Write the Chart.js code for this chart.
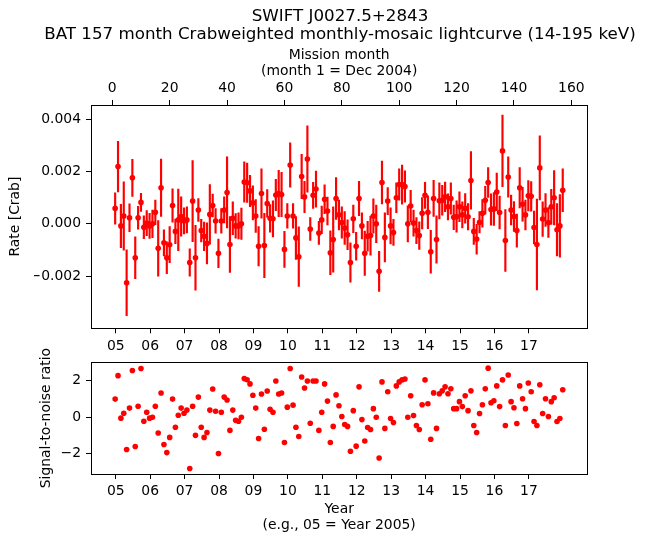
<!DOCTYPE html>
<html><head><meta charset="utf-8">
<script src="https://cdn.jsdelivr.net/npm/chart.js@4.4.0/dist/chart.umd.min.js"></script>
<style>
html,body{margin:0;padding:0;background:#fff;}
#wrap{position:relative;width:646px;height:543px;background:#fff;}
canvas{position:absolute;left:0;}
#c1{top:0;} #c2{top:330px;}
</style></head><body>
<div id="wrap"><canvas id="c1" width="646" height="360"></canvas><canvas id="c2" width="646" height="213"></canvas></div>
<script>
// Mission months (category positions, month 1 = Dec 2004)
const missionMonths = Array.from({length: 157}, (_, i) => i + 1);

// Rate in units of 0.001 Crab
const rate = [
  0.59, 2.19, -0.08, 0.30, -2.26, 0.23, 1.76, -1.30, 0.23, 0.82,
  -0.13, 0.03, -0.08, 0.00, 0.44, -0.94, 1.38, -0.73, -1.30, -0.80,
  0.70, -0.29, 0.15, 0.28, 0.11, 0.15, -1.48, 0.87, -1.30, 0.53,
  -0.26, -0.48, -0.75, 0.36, 0.70, 0.11, -1.13, 0.11, 0.53, 1.20,
  -0.79, 0.21, -0.08, -0.08, 0.00, 1.60, 1.57, 1.26, 0.80, 0.30,
  -0.86, 1.16, -0.83, 0.78, 0.21, 0.19, 1.10, 1.16, 1.12, -0.98,
  0.30, 2.25, 0.30, -0.54, -1.26, 1.81, 1.03, 2.48, -0.20, 1.09,
  1.33, -0.35, 0.15, 0.94, 0.49, -1.11,
  -0.60, 0.97, 0.34, 0.05, -0.16, -0.42, -1.48, 0.19, -0.86, 0.97,
  -0.08, -1.13, -0.48, -0.45, 0.30, 0.00, -1.82, 1.58, -0.52, 0.87,
  -0.08, -0.33, 1.00, 1.50, 1.50, 1.43, 0.00,
  0.68, 0.03, -0.26, -0.45, 0.40, 1.09, 0.44, -1.07, 0.97, -0.60,
  0.88, 0.90, 1.03, 0.65, 0.97, 0.25, 0.28, 0.65, 0.34, 0.59,
  0.27, 1.66, -0.29, -0.58, 0.06, 0.40, 0.90, 1.58, 0.55, 0.57,
  1.22, 0.43, 2.79, -0.64, 1.79, 0.53, 0.28, -0.26, 1.38, 0.75,
  0.34, 1.07, 1.05, -0.14, -0.79, 2.14, 0.18, 0.53, 0.05, 0.65,
  1.00, -0.23, -0.08, 1.28
];

// 1-sigma error in units of 0.001 Crab
const rateErr = [
  0.60, 0.97, 0.83, 1.31, 1.26, 0.53, 0.71, 0.80, 0.44, 0.35,
  0.44, 0.48, 0.48, 0.53, 0.47, 1.06, 1.10, 0.50, 0.61, 0.69,
  0.64, 0.47, 1.18, 0.75, 0.50, 0.50, 0.52, 1.55, 1.24, 0.44,
  0.43, 0.55, 0.79, 1.14, 0.44, 0.47, 0.55, 0.47, 0.50, 1.36,
  1.07, 0.63, 0.47, 0.50, 0.60, 0.77, 0.75, 0.60, 0.65, 0.63,
  0.75, 0.94, 1.23, 0.53, 0.53, 0.69, 0.60, 0.89, 0.85, 0.69,
  0.47, 0.85, 0.47, 0.82, 1.14, 0.85, 0.60, 1.27, 0.44, 0.50,
  0.69, 0.44, 0.53, 0.55, 0.53, 0.84,
  1.25, 0.80, 0.57, 0.60, 0.63, 0.57, 0.75, 0.53, 0.53, 0.66,
  0.50, 0.85, 0.57, 0.75, 0.66, 0.72, 0.77, 0.82, 0.94, 0.52,
  0.69, 0.50, 0.57, 0.60, 0.75, 0.60, 0.69,
  0.60, 0.50, 0.50, 0.53, 0.60, 0.50, 0.63, 0.82, 0.69, 0.91,
  0.69, 0.57, 0.57, 0.50, 0.60, 0.47, 0.60, 0.57, 0.50, 0.57,
  0.50, 1.10, 0.50, 0.58, 0.41, 0.53, 0.53, 0.57, 0.60, 0.63,
  0.72, 0.63, 1.37, 1.18, 0.77, 0.57, 0.57, 0.63, 0.77, 0.65,
  0.57, 0.58, 0.57, 0.63, 1.74, 1.23, 0.66, 0.63, 0.57, 0.67,
  1.04, 1.00, 1.20, 0.82
];

// Signal-to-noise ratio
const snr = [
  0.99, 2.27, -0.05, 0.22, -1.76, 0.50, 2.55, -1.60, 0.60, 2.66,
  -0.22, 0.27, -0.05, 0.00, 0.60, -0.86, 1.32, -1.49, -1.93, -1.10,
  0.99, -0.55, 0.11, 0.50, 0.22, 0.39, -2.80, 0.60, -0.99, 1.10,
  -0.55, -1.10, -0.83, 0.39, 1.54, 0.33, -1.98, 0.27, 1.10, 0.94,
  -0.72, 0.39, -0.17, -0.22, 0.00, 2.11, 2.05, 1.82, 1.20, 0.50,
  -1.16, 1.27, -0.66, 1.43, 0.44, 0.27, 1.98, 1.27, 1.32, -1.38,
  0.55, 2.66, 0.66, -0.55, -1.05, 2.20, 1.60, 1.98, -0.33, 1.98,
  1.98, -0.72, 0.27, 1.82, 0.88, -1.38,
  -0.50, 1.22, 0.63, 0.04, -0.40, -0.50, -1.86, 0.36, -1.58, 1.66,
  -0.13, -1.30, -0.56, -0.67, 0.47, 0.00, -2.23, 1.93, -0.61, 1.39,
  -0.07, -0.29, 1.71, 1.93, 2.04, 2.09, 0.00,
  1.17, 0.09, -0.45, -0.67, 0.68, 2.04, 0.74, -1.20, 1.33, -0.61,
  1.28, 1.44, 1.66, 1.28, 1.55, 0.47, 0.47, 0.85, 0.58, 1.17,
  0.36, 1.44, -0.45, -0.83, 0.20, 0.68, 1.55, 2.68, 0.79, 0.90,
  1.71, 0.58, 2.04, -0.45, 2.31, 0.85, 0.52, -0.34, 1.71, 1.01,
  0.47, 1.87, 1.39, -0.23, -0.45, 1.77, 0.20, 1.01, 0.04, 0.85,
  1.06, -0.23, -0.07, 1.50
];

// Tick labels
const yearLabels = ['05','06','07','08','09','10','11','12','13','14','15','16','17'];
const yearTickMonths = [1.2, 13.2, 25.2, 37.2, 49.2, 61.2, 73.2, 85.2, 97.2, 109.2, 121.2, 133.2, 145.2];
const monthTicks = [0, 20, 40, 60, 80, 100, 120, 140, 160];
const rateTicks = [-2, 0, 2, 4];      // in 0.001 Crab
const snrTicks = [-2, 0, 2];

const FONT = "'DejaVu Sans', 'Liberation Sans', sans-serif";
const XMIN = -7.42, XMAX = 165.56;
const minus = s => String(s).replace('-', '\u2212');

const frame = {
  id: 'frame',
  afterDraw(chart) {
    const {ctx, chartArea: a} = chart;
    ctx.save();
    ctx.strokeStyle = '#000';
    ctx.lineWidth = 1;
    ctx.strokeRect(Math.round(a.left) + 0.5, Math.round(a.top) + 0.5,
                   Math.round(a.right - a.left), Math.round(a.bottom - a.top));
    ctx.restore();
  }
};

const tickFont = {family: FONT, size: 13.9, lineHeight: 1.2};
const gridOpts = {display: true, drawOnChartArea: false, drawTicks: true, tickLength: 5, color: '#000', lineWidth: 1, offset: false};

function xYearAxis(height, title) {
  const ax = {
    type: 'linear', position: 'bottom', min: XMIN, max: XMAX, offset: false,
    grid: gridOpts, border: {display: false},
    ticks: {autoSkip: false, maxRotation: 0, minRotation: 0, padding: 4.5, color: '#000', font: tickFont,
            callback: (v, i) => yearLabels[i]},
    afterBuildTicks: s => { s.ticks = yearTickMonths.map(v => ({value: v})); },
    afterFit: s => { s.height = height; }
  };
  if (title) {
    ax.title = {display: true, text: title, color: '#000',
                font: {family: FONT, size: 13.9, lineHeight: 1.2}, padding: {top: 0, bottom: 9}};
  }
  return ax;
}

// ---------- Top panel: rate with error bars ----------
new Chart(document.getElementById('c1'), {
  type: 'bar',
  data: {
    datasets: [
      {
        type: 'bar',
        data: missionMonths.map((m, i) => ({x: m, y: [rate[i] - rateErr[i], rate[i] + rateErr[i]]})),
        backgroundColor: '#ff0000', borderWidth: 0, barThickness: 1.5, grouped: false, order: 2
      },
      {
        type: 'line',
        data: missionMonths.map((m, i) => ({x: m, y: rate[i]})),
        showLine: false, pointRadius: 2.8, pointHoverRadius: 2.8,
        pointBackgroundColor: '#ff0000', pointBorderWidth: 0, order: 1
      }
    ]
  },
  options: {
    responsive: false, animation: false, devicePixelRatio: 1,
    layout: {padding: {left: 34, right: 0, top: 0, bottom: 0}},
    plugins: {
      legend: {display: false}, tooltip: {enabled: false},
      title: {
        display: true, color: '#000',
        text: ['SWIFT J0027.5+2843', 'BAT 157 month Crabweighted monthly-mosaic lightcurve (14-195 keV)'],
        font: {family: FONT, size: 16.7, weight: 'normal', lineHeight: 1.1},
        padding: {top: 7, bottom: 0}
      }
    },
    scales: {
      x: xYearAxis(31.7, null),
      x2: {
        type: 'linear', position: 'top', min: XMIN, max: XMAX, offset: false,
        grid: gridOpts, border: {display: false},
        ticks: {autoSkip: false, maxRotation: 0, minRotation: 0, padding: 3.5, color: '#000', font: tickFont},
        afterBuildTicks: s => { s.ticks = monthTicks.map(v => ({value: v})); },
        title: {display: true, text: ['Mission month', '(month 1 = Dec 2004)'], color: '#000',
                font: {family: FONT, size: 13.9, lineHeight: 1.15}, padding: {top: 3.2, bottom: 0}},
        afterFit: s => { s.height = 61.2; }
      },
      y: {
        type: 'linear', position: 'left', min: -4.0, max: 4.55,
        grid: gridOpts, border: {display: false},
        ticks: {padding: 5, color: '#000', font: tickFont,
                callback: v => minus((v / 1000).toFixed(3))},
        afterBuildTicks: s => { s.ticks = rateTicks.map(v => ({value: v})); },
        title: {display: true, text: 'Rate [Crab]', color: '#000',
                font: {family: FONT, size: 13.9, lineHeight: 1.2}, padding: {top: -27, bottom: 0}},
        afterFit: s => { s.width = 57; }
      },
      yR: {
        type: 'linear', position: 'right', min: 0, max: 1, display: true,
        grid: {display: false}, border: {display: false}, ticks: {display: false},
        afterFit: s => { s.width = 58.7; }
      }
    }
  },
  plugins: [frame]
});

// ---------- Bottom panel: signal-to-noise ----------
new Chart(document.getElementById('c2'), {
  type: 'scatter',
  data: {
    datasets: [{
      data: missionMonths.map((m, i) => ({x: m, y: snr[i]})),
      pointRadius: 2.8, pointHoverRadius: 2.8,
      pointBackgroundColor: '#ff0000', pointBorderWidth: 0
    }]
  },
  options: {
    responsive: false, animation: false, devicePixelRatio: 1,
    layout: {padding: {left: 0, right: 58.7, top: 32.3, bottom: 0}},
    plugins: {legend: {display: false}, tooltip: {enabled: false}},
    scales: {
      x: xYearAxis(69, ['Year', '(e.g., 05 = Year 2005)']),
      y: {
        type: 'linear', position: 'left', min: -3.1, max: 3.0,
        grid: gridOpts, border: {display: false},
        ticks: {padding: 5, color: '#000', font: tickFont, callback: v => minus(v)},
        afterBuildTicks: s => { s.ticks = snrTicks.map(v => ({value: v})); },
        title: {display: true, text: 'Signal-to-noise ratio', color: '#000',
                font: {family: FONT, size: 13.9, lineHeight: 1.2}, padding: {top: 38, bottom: 0}},
        afterFit: s => { s.width = 91; }
      }
    }
  },
  plugins: [frame]
});
</script>
</body></html>
